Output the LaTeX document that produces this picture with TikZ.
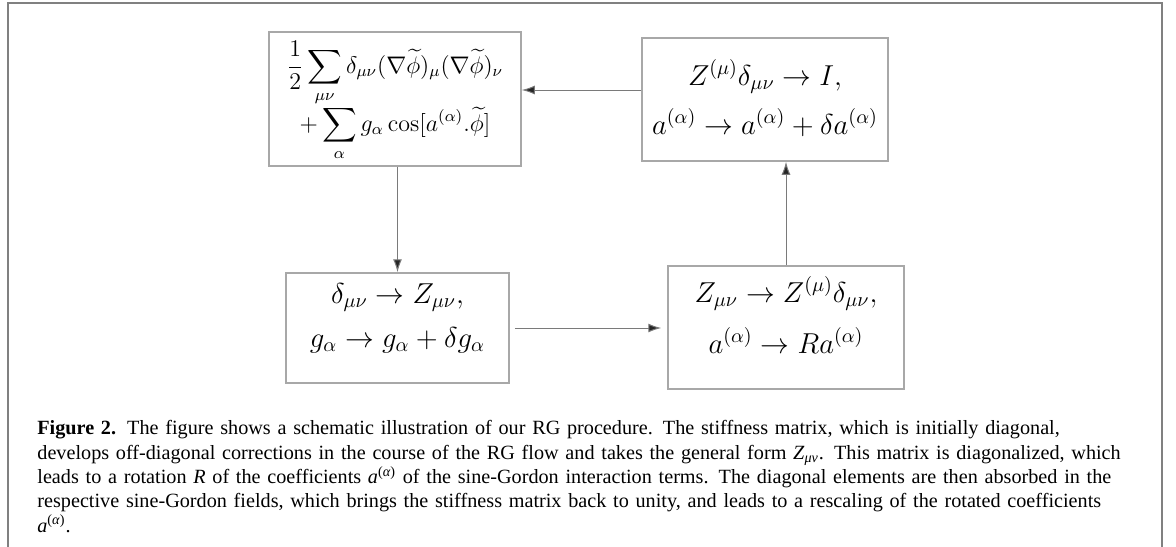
\documentclass[tikz,border=0pt]{standalone}
\usepackage{amsmath, amssymb}
\usepackage{fontspec}
\newfontfamily\capfont{Liberation Serif}
\usepackage{tikz}
\usetikzlibrary{arrows.meta}

\definecolor{framegray}{HTML}{808080}
\definecolor{boxgray}{HTML}{A8A8A8}
\definecolor{linegray}{HTML}{7A7A7A}

\newcommand{\boxmath}{\fontsize{13.7}{16.5}\selectfont}

\begin{document}
\begin{tikzpicture}[x=0.5pt,y=-0.5pt,
        box/.style={draw=boxgray, line width=0.75pt, inner sep=0pt, anchor=base},
        flowarrow/.style={draw=linegray, line width=0.5pt, -{Latex[length=6.5pt,width=4.5pt,fill=black!85]}}]
        \useasboundingbox (0,0) rectangle (1176,546);
        % outer frame, bottom edge runs off the page
        \draw[framegray, line width=1pt] (8,560) -- (8,3) -- (1162,3) -- (1162,560);
        % the four steps
        \node[box, minimum width=126pt, text height=20.5pt, text depth=46.5pt] (ham) at (395,73)
            {\large$\begin{array}[t]{c}
            \displaystyle\frac{1}{2}\sum_{\mu\nu}\delta_{\mu\nu}(\nabla\widetilde{\phi})_{\mu}(\nabla\widetilde{\phi})_{\nu}\\[2pt]
            \displaystyle+\sum_{\alpha}g_{\alpha}\cos[a^{(\alpha)}.\widetilde{\phi}]
            \end{array}$};
        \node[box, minimum width=121pt, text height=23.5pt, text depth=38pt] (rescale) at (765,85)
            {\boxmath$\begin{array}[t]{c}
            Z^{(\mu)}\delta_{\mu\nu}\to I,\\[7pt]
            a^{(\alpha)}\to a^{(\alpha)}+\delta a^{(\alpha)}
            \end{array}$};
        \node[box, minimum width=111.5pt, text height=15pt, text depth=40pt] (flowstep) at (397.5,303)
            {\boxmath$\begin{array}[t]{c}
            \delta_{\mu\nu}\to Z_{\mu\nu},\\[5.5pt]
            g_{\alpha}\to g_{\alpha}+\delta g_{\alpha}
            \end{array}$};
        \node[box, minimum width=118pt, text height=18pt, text depth=43.5pt] (rotation) at (786,302)
            {\boxmath$\begin{array}[t]{c}
            Z_{\mu\nu}\to Z^{(\mu)}\delta_{\mu\nu},\\[8pt]
            a^{(\alpha)}\to Ra^{(\alpha)}
            \end{array}$};
        % connectors
        \coordinate (topin) at ([yshift=4.75pt]rescale.west);
        \draw[flowarrow] (flowstep.north |- ham.south) -- (flowstep.north);
        \draw[flowarrow, shorten <=2.5pt, shorten >=3pt] (flowstep.east) -- (flowstep.east -| rotation.west);
        \draw[flowarrow] (rotation.north) -- (rotation.north |- rescale.south);
        \draw[flowarrow] (topin) -- (topin -| ham.east);
        % caption
        \node[anchor=north west, inner sep=0pt, text width=560pt, align=left,
              font=\capfont\fontsize{10.1}{12.2}\selectfont] (caption) at (37,420)
            {\textbf{Figure 2.}\hspace{0.55em}The figure shows a schematic illustration of our RG procedure. The stiffness matrix, which is initially diagonal,\\
            develops off-diagonal corrections in the course of the RG flow and takes the general form \textit{Z}\textsubscript{\textit{μν}}. This matrix is diagonalized, which\\
            leads to a rotation \textit{R} of the coefficients \textit{a}\textsuperscript{(\textit{α})} of the sine-Gordon interaction terms. The diagonal elements are then absorbed in the\\
            respective sine-Gordon fields, which brings the stiffness matrix back to unity, and leads to a rescaling of the rotated coefficients\\
            \textit{a}\textsuperscript{(\textit{α})}.};
\end{tikzpicture}
\end{document}
